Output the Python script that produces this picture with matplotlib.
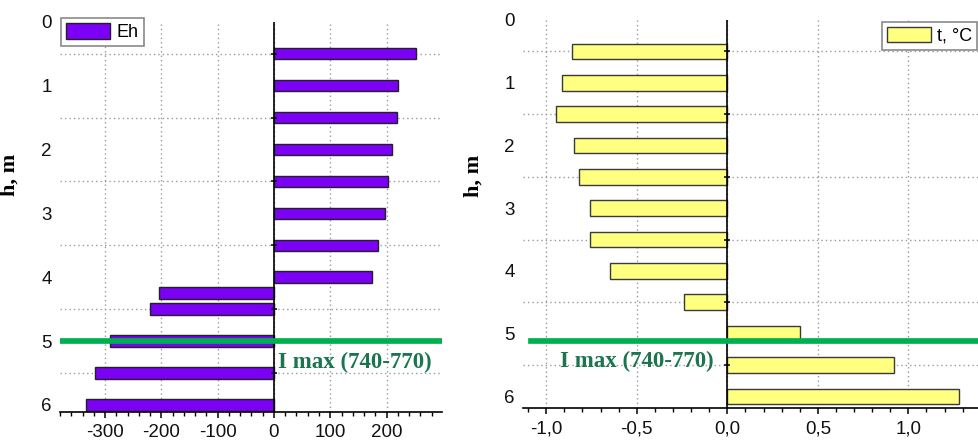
import matplotlib
matplotlib.use("Agg")
import matplotlib.pyplot as plt
from matplotlib.ticker import MultipleLocator, FuncFormatter, FixedLocator

plt.rcParams['font.family'] = ['Liberation Sans', 'DejaVu Sans']
plt.rcParams['axes.unicode_minus'] = False

# ---- data ----
depth_eh = [0.5, 1.0, 1.5, 2.0, 2.5, 3.0, 3.5, 4.0, 4.25, 4.5, 5.0, 5.5, 6.0]
eh_values = [253, 221, 219, 209, 202, 198, 185, 175, -205, -220, -291, -318, -334]

depth_t = [0.5, 1.0, 1.5, 2.0, 2.5, 3.0, 3.5, 4.0, 4.5, 5.0, 5.5, 6.0]
t_values = [-0.856, -0.915, -0.947, -0.845, -0.818, -0.759, -0.759, -0.648,
            -0.238, 0.401, 0.921, 1.280]

depth_ticks = [0, 1, 2, 3, 4, 5, 6]
grid_depths = [0.5, 1.5, 2.5, 3.5, 4.5, 5.5]
imax_depth_left = 5.0
imax_depth_right = 5.11
imax_label = "I max (740-770)"

W, H = 979, 441
fig = plt.figure(figsize=(W / 100, H / 100), dpi=100)

def px_axes(left, top, right, bottom):
    return fig.add_axes([left / W, 1 - bottom / H, (right - left) / W, (bottom - top) / H])

ax1 = px_axes(60, 21.7, 442.3, 411.7)
ax2 = px_axes(523.3, 20, 989.8, 408.3)

grid_kw = dict(color='#9a9a9a', linestyle=(0, (1, 2.2)), linewidth=1.0)
green = '#00b050'
text_green = '#1b7650'

def style(ax, xlim, ylim, major, minor, fmt, label_coords):
    ax.set_xlim(*xlim)
    ax.set_ylim(*ylim)
    for s in ['top', 'right', 'left']:
        ax.spines[s].set_visible(False)
    ax.spines['bottom'].set_linewidth(1.2)
    ax.xaxis.set_major_locator(MultipleLocator(major))
    ax.xaxis.set_minor_locator(MultipleLocator(minor))
    ax.xaxis.set_major_formatter(FuncFormatter(fmt))
    ax.tick_params(axis='x', which='major', direction='out', length=4, width=1.1,
                   pad=5, labelsize=13.5, colors='black', labelcolor='#111111')
    ax.tick_params(axis='x', which='minor', direction='out', length=3, width=1.0)
    ax.yaxis.set_major_locator(FixedLocator(depth_ticks))
    ax.yaxis.set_minor_locator(FixedLocator(grid_depths))
    ax.tick_params(axis='y', which='both', length=0, pad=6, labelsize=13.5,
                   labelcolor='#111111')
    ax.grid(True, axis='x', which='major', **grid_kw)
    ax.grid(True, axis='y', which='minor', **grid_kw)
    ax.set_axisbelow(True)
    ax.axvline(0, color='black', linewidth=1.2, zorder=3)
    ax.plot([0] * len(grid_depths), grid_depths, linestyle='none', marker='_',
            markersize=5, markeredgewidth=1.1, color='black', zorder=4)
    ax.set_ylabel('h, m', family=['Liberation Serif', 'DejaVu Serif'],
                  fontweight='bold', fontsize=16)
    ax.yaxis.set_label_coords(*label_coords)

# left panel
style(ax1, (-380, 299), (6.105, 0), 100, 20,
      lambda v, p: f"{v:.0f}", (-0.106, 0.607))
ax1.barh(depth_eh, eh_values, height=0.18, color='#7b00f5', edgecolor='#222222',
         linewidth=1.0, zorder=2, label='Eh')
ax1.axhline(imax_depth_left, color=green, linewidth=4.1, zorder=5)
ax1.text(7, 5.33, imax_label, family=['Liberation Serif', 'DejaVu Serif'],
         fontweight='bold', fontsize=16.5, color=text_green, va='center',
         ha='left', zorder=6)
leg1 = ax1.legend(loc='upper left', bbox_to_anchor=(0.003, 1.009),
                  borderaxespad=0, fontsize=13, handlelength=2.45,
                  handleheight=0.95, handletextpad=0.35, borderpad=0.28,
                  fancybox=False, framealpha=1, edgecolor='#8a8a8a')
leg1.get_frame().set_linewidth(1.2)
leg1.set_zorder(7)

# right panel
style(ax2, (-1.127, 1.45), (6.19, 0), 0.5, 0.1,
      lambda v, p: f"{v:.1f}".replace('.', ','), (-0.086, 0.598))
ax2.barh(depth_t, t_values, height=0.25, color='#ffff80', edgecolor='#3a3a3a',
         linewidth=1.0, zorder=2, label='t, °C')
ax2.axhline(imax_depth_right, xmin=0.016, color=green, linewidth=4.1, zorder=5)
ax2.text(-0.924, 5.45, imax_label, family=['Liberation Serif', 'DejaVu Serif'],
         fontweight='bold', fontsize=16.5, color=text_green, va='center',
         ha='left', zorder=6)
leg2 = ax2.legend(loc='upper left', bbox_to_anchor=(0.768, 0.9956),
                  borderaxespad=0, fontsize=13, handlelength=2.45,
                  handleheight=0.95, handletextpad=0.35, borderpad=0.28,
                  fancybox=False, framealpha=1, edgecolor='#8a8a8a')
leg2.get_frame().set_linewidth(1.2)
leg2.set_zorder(7)

fig.savefig('out.png', dpi=100)
